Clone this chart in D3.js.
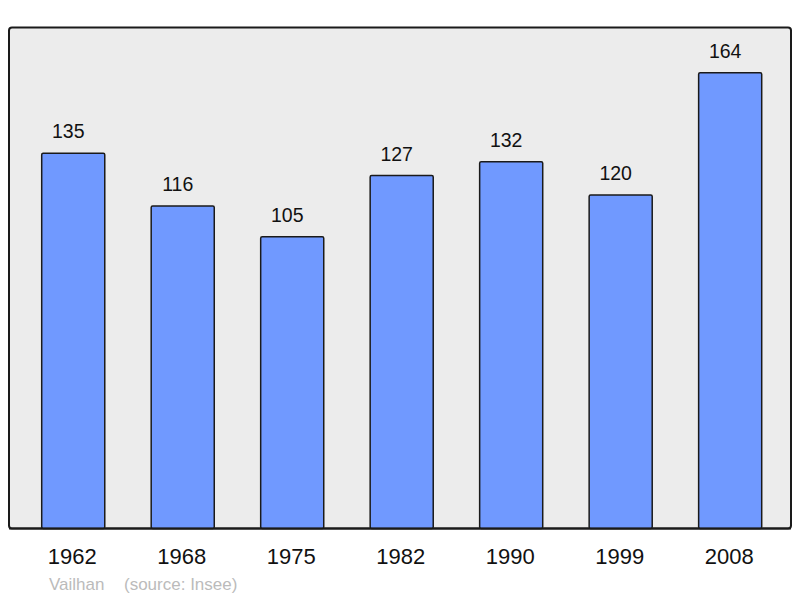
<!DOCTYPE html>
<html><head><meta charset="utf-8">
<script src="https://cdn.jsdelivr.net/npm/d3@7"></script>
<style>html,body{margin:0;padding:0;background:#fff;}svg{display:block;}</style>
</head><body>
<svg id="c" width="800" height="598"></svg>
<script>
const years = ["1962","1968","1975","1982","1990","1999","2008"];
const population = [135,116,105,127,132,120,164];
const commune = "Vailhan";
const source = "(source: Insee)";

const svg = d3.select("#c");
const font = "'Liberation Sans', Arial, sans-serif";

svg.append("rect").attr("x",9).attr("y",27.5).attr("width",782).attr("height",501)
  .attr("rx",3).attr("fill","#ececec").attr("stroke","#1a1a1a").attr("stroke-width",2);

const x = d3.scaleBand().domain(years).range([41.7,761.7]).paddingInner(0.424).paddingOuter(0);
const y = d3.scaleLinear().domain([0,180]).range([528.6,28.2]);

svg.selectAll("rect.bar").data(population).join("rect").attr("class","bar")
  .attr("x",(d,i)=>x(years[i])).attr("y",d=>y(d))
  .attr("width",x.bandwidth()).attr("height",d=>y(0)-y(d))
  .attr("rx",1.5).attr("fill","#7099ff").attr("stroke","#1a1a1a").attr("stroke-width",1.5);

svg.selectAll("text.val").data(population).join("text").attr("class","val")
  .attr("x",(d,i)=>x(years[i])+x.bandwidth()/2-5).attr("y",d=>y(d)-15)
  .attr("text-anchor","middle").attr("font-family",font).attr("font-size",19.5)
  .attr("fill","#111").text(d=>d);

svg.append("line").attr("x1",9).attr("x2",791).attr("y1",528.5).attr("y2",528.5)
  .attr("stroke","#1a1a1a").attr("stroke-width",2);

const xAxis = d3.axisBottom(x).tickSize(0).tickPadding(0);
const ax = svg.append("g").attr("transform","translate(0,528)").call(xAxis);
ax.select(".domain").remove();
ax.selectAll("text").attr("font-family",font).attr("font-size",22).attr("fill","#111")
  .attr("dy",null).attr("y",36).attr("dx",-1);

svg.append("text").attr("x",49).attr("y",590).attr("font-family",font).attr("font-size",17)
  .attr("fill","#bbbbbb").text(commune);
svg.append("text").attr("x",124).attr("y",590).attr("font-family",font).attr("font-size",17)
  .attr("fill","#bbbbbb").text(source);
</script>
</body></html>
